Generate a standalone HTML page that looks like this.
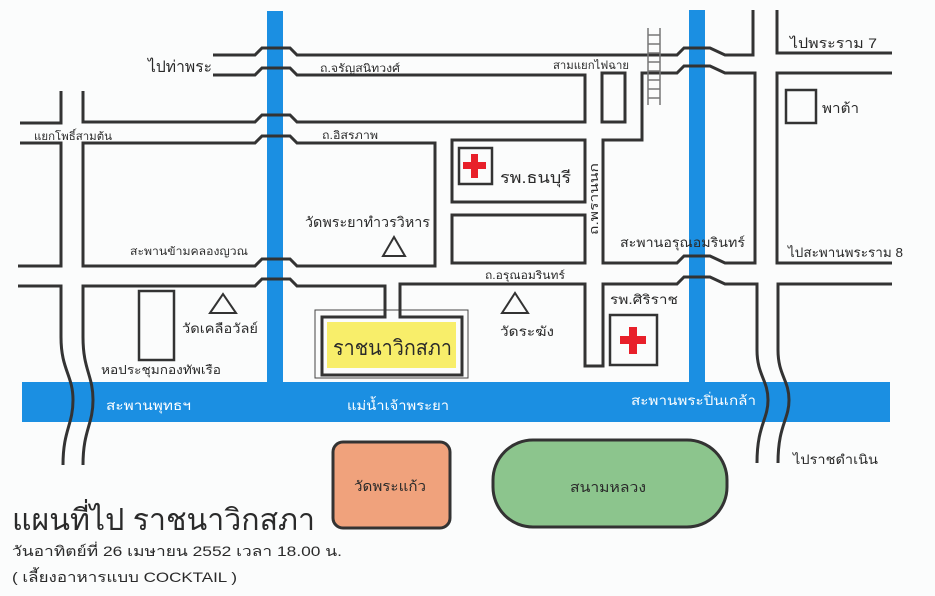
<!DOCTYPE html>
<html><head><meta charset="utf-8"><style>
html,body{margin:0;padding:0;background:#fbfcfc;}
svg{display:block;}
text{font-family:"Liberation Sans","DejaVu Sans",sans-serif;fill:#2a2a2a;}
.w{fill:#fff;}
</style></head><body>
<svg width="935" height="596" viewBox="0 0 935 596" xmlns="http://www.w3.org/2000/svg">
<rect width="935" height="596" fill="#fbfcfc"/>
<!-- water -->
<rect x="267" y="11" width="16" height="380" fill="#1b8fe2"/>
<rect x="689" y="10" width="16" height="380" fill="#1b8fe2"/>
<rect x="22" y="382" width="868" height="40" fill="#1b8fe2"/>
<!-- gardens -->
<rect x="333" y="442" width="117" height="86" rx="10" fill="#f0a27c" stroke="#333" stroke-width="3"/>
<rect x="493" y="440" width="234" height="87" rx="40" fill="#8cc58d" stroke="#333" stroke-width="3"/>
<!-- buildings -->
<rect x="315" y="310" width="153" height="68" fill="none" stroke="#444" stroke-width="1"/>
<rect x="327" y="322" width="129" height="46" fill="#f8ee6a"/>
<g fill="none" stroke="#333" stroke-width="3" stroke-linejoin="miter">
<path d="M213,55 H255 L262,48 H290 L297,55 H677 L684,48 H710 L725,55 H753 V10"/>
<path d="M213,75 H255 L262,68 H290 L297,75 H585 V122 H297 L290,115 H262 L255,122 H83 V91"/>
<path d="M61,91 V123 H20"/>
<path d="M20,143 H61 V266 H18"/>
<path d="M83,143 V266 H255 L262,259 H290 L297,266 H435 V143 H297 L290,136 H262 L255,143 Z"/>
<rect x="452" y="140" width="133" height="62"/>
<rect x="452" y="215" width="133" height="48"/>
<rect x="602" y="73" width="23" height="49"/>
<path d="M603,263 V140 H642 V73 H677 L684,66 H710 L725,73 H755 V263 H725 L710,256 H684 L677,263 Z"/>
<path d="M777,10 V53 H892"/>
<path d="M892,73 H777 V263 H892"/>
<path d="M18,286 H61 V337 C61,370 73,375 73,400 C73,425 63,430 63,465"/>
<path d="M83,465 C83,430 93,425 93,400 C93,375 83,370 83,337 V286 H255 L262,279 H290 L297,286 H385 V317 H322 V375 H462 V317 H400 V284 H585 V366 H603 V284 H677 L684,277 H710 L725,284 H757 V350 C757,375 768,380 768,400 C768,420 757,425 757,463"/>
<path d="M778,463 C778,425 789,420 789,400 C789,380 778,375 778,350 V284 H892"/>
<rect x="786" y="90" width="30" height="33" stroke-width="2.5"/>
<rect x="139" y="291" width="35" height="69" stroke-width="2.5"/>
<rect x="459" y="148" width="33" height="36" stroke-width="2.5"/>
<rect x="610" y="315" width="47" height="50" stroke-width="2.5"/>
<path d="M383,256 L394,237 L405,256 Z" stroke-width="2"/>
<path d="M210,313 L223,294 L236,313 Z" stroke-width="2"/>
<path d="M502,313 L515,293 L528,313 Z" stroke-width="2"/>
</g>
<!-- ladder -->
<g stroke="#777" stroke-width="1.5" fill="none">
<path d="M648,28 V105 M660,28 V105 M648,35 H660 M648,44 H660 M648,53 H660 M648,62 H660 M648,71 H660 M648,80 H660 M648,89 H660 M648,98 H660"/>
</g>
<!-- red crosses -->
<g fill="#e8202a">
<rect x="471" y="154" width="7" height="24"/><rect x="463" y="162" width="23" height="7"/>
<rect x="629" y="327" width="8" height="27"/><rect x="620" y="336" width="26" height="8"/>
</g>
<!-- labels -->
<text x="148" y="72" font-size="16" textLength="64" lengthAdjust="spacingAndGlyphs">ไปท่าพระ</text>
<text x="320" y="72" font-size="11" textLength="80" lengthAdjust="spacingAndGlyphs">ถ.จรัญสนิทวงศ์</text>
<text x="553" y="69" font-size="11" textLength="76" lengthAdjust="spacingAndGlyphs">สามแยกไฟฉาย</text>
<text x="790" y="48" font-size="14" textLength="87" lengthAdjust="spacingAndGlyphs">ไปพระราม 7</text>
<text x="822" y="113" font-size="14" textLength="37" lengthAdjust="spacingAndGlyphs">พาต้า</text>
<text x="34" y="140" font-size="11" textLength="78" lengthAdjust="spacingAndGlyphs">แยกโพธิ์สามต้น</text>
<text x="322" y="139" font-size="11" textLength="56" lengthAdjust="spacingAndGlyphs">ถ.อิสรภาพ</text>
<text x="500" y="183" font-size="16" textLength="71" lengthAdjust="spacingAndGlyphs">รพ.ธนบุรี</text>
<text transform="translate(598,235) rotate(-90)" font-size="12" textLength="72" lengthAdjust="spacingAndGlyphs">ถ.พรานนก</text>
<text x="305" y="227" font-size="14" textLength="125" lengthAdjust="spacingAndGlyphs">วัดพระยาทำวรวิหาร</text>
<text x="130" y="255" font-size="11" textLength="118" lengthAdjust="spacingAndGlyphs">สะพานข้ามคลองญวณ</text>
<text x="620" y="247" font-size="13" textLength="125" lengthAdjust="spacingAndGlyphs">สะพานอรุณอมรินทร์</text>
<text x="788" y="257" font-size="13" textLength="115" lengthAdjust="spacingAndGlyphs">ไปสะพานพระราม 8</text>
<text x="485" y="279" font-size="11" textLength="80" lengthAdjust="spacingAndGlyphs">ถ.อรุณอมรินทร์</text>
<text x="610" y="304" font-size="13" textLength="68" lengthAdjust="spacingAndGlyphs">รพ.ศิริราช</text>
<text x="182" y="333" font-size="13" textLength="76" lengthAdjust="spacingAndGlyphs">วัดเคลือวัลย์</text>
<text x="101" y="374" font-size="12" textLength="120" lengthAdjust="spacingAndGlyphs">หอประชุมกองทัพเรือ</text>
<text x="333" y="355" font-size="21" textLength="119" lengthAdjust="spacingAndGlyphs">ราชนาวิกสภา</text>
<text x="500" y="336" font-size="13" textLength="54" lengthAdjust="spacingAndGlyphs">วัดระฆัง</text>
<text class="w" x="106" y="410" font-size="13" textLength="85" lengthAdjust="spacingAndGlyphs">สะพานพุทธฯ</text>
<text class="w" x="347" y="410" font-size="13" textLength="102" lengthAdjust="spacingAndGlyphs">แม่น้ำเจ้าพระยา</text>
<text class="w" x="631" y="405" font-size="13" textLength="125" lengthAdjust="spacingAndGlyphs">สะพานพระปิ่นเกล้า</text>
<text x="793" y="464" font-size="13" textLength="85" lengthAdjust="spacingAndGlyphs">ไปราชดำเนิน</text>
<text x="354" y="491" font-size="14" textLength="72" lengthAdjust="spacingAndGlyphs">วัดพระแก้ว</text>
<text x="570" y="492" font-size="14" textLength="76" lengthAdjust="spacingAndGlyphs">สนามหลวง</text>
<text x="12" y="530" font-size="30" textLength="303" lengthAdjust="spacingAndGlyphs">แผนที่ไป ราชนาวิกสภา</text>
<text x="12" y="556" font-size="14" textLength="330" lengthAdjust="spacingAndGlyphs">วันอาทิตย์ที่ 26 เมษายน 2552 เวลา 18.00 น.</text>
<text x="12" y="582" font-size="14" textLength="225" lengthAdjust="spacingAndGlyphs">( เลี้ยงอาหารแบบ COCKTAIL )</text>
</svg>
</body></html>
